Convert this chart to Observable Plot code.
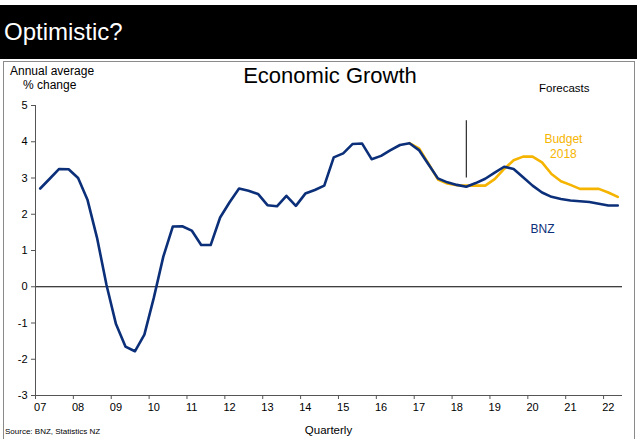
<!DOCTYPE html>
<html><head><meta charset="utf-8">
<script src="https://cdn.jsdelivr.net/npm/d3@7"></script>
<script src="https://cdn.jsdelivr.net/npm/@observablehq/plot@0.6"></script>
<style>
body{margin:0;background:#fff;font-family:"Liberation Sans",Arial,sans-serif;}
#wrap{position:relative;width:637px;height:439px;overflow:hidden;}
#header{position:absolute;left:0;top:5px;width:637px;height:54px;background:#000;color:#fff;font-size:24px;line-height:54px;padding-left:4px;box-sizing:border-box;}
#box{position:absolute;left:3px;top:61px;width:630px;height:400px;border:1px solid #8a8a8a;}
#chart{position:absolute;left:0;top:62px;}
.t{position:absolute;white-space:nowrap;color:#000;}
</style></head>
<body><div id="wrap">
<div id="header">Optimistic?</div>
<div id="box"></div>
<div id="chart"></div>
<div class="t" style="left:10px;top:64px;font-size:12px;">Annual average</div>
<div class="t" style="left:23px;top:78px;font-size:12px;">% change</div>
<div class="t" style="left:0;width:660px;text-align:center;top:63px;font-size:22px;">Economic Growth</div>
<div class="t" style="left:539px;top:82px;font-size:11.5px;">Forecasts</div>
<div class="t" style="left:0;width:657px;text-align:center;top:424px;font-size:11.5px;">Quarterly</div>
<div class="t" style="left:5px;top:427px;font-size:8px;">Source: BNZ, Statistics NZ</div>
</div>
<script>
// Quarterly series, first quarter 2007Q1
const startYear = 2007;
const bnz = [2.71, 2.98, 3.25, 3.24, 3.00, 2.39, 1.35, 0.05, -1.03, -1.65, -1.78, -1.32, -0.30, 0.83, 1.66, 1.67,
  1.55, 1.15, 1.15, 1.91, 2.33, 2.71, 2.65, 2.56, 2.25, 2.22, 2.51, 2.23, 2.57, 2.67, 2.79, 3.57,
  3.68, 3.94, 3.95, 3.52, 3.61, 3.77, 3.91, 3.96, 3.77, 3.38, 2.99, 2.88, 2.81, 2.76, 2.86, 2.98,
  3.15, 3.31, 3.25, 3.02, 2.79, 2.60, 2.48, 2.42, 2.38, 2.36, 2.34, 2.29, 2.24, 2.24];
const budgetStartIndex = 39;
const budget2018 = [3.96, 3.82, 3.40, 2.96, 2.85, 2.80, 2.79, 2.79, 2.79, 2.97, 3.25, 3.49, 3.59, 3.59, 3.43, 3.11,
  2.91, 2.81, 2.70, 2.70, 2.70, 2.60, 2.48];
const tickYears = [2007,2008,2009,2010,2011,2012,2013,2014,2015,2016,2017,2018,2019,2020,2021,2022];
const tickLabels = ["07","08","09","10","11","12","13","14","15","16","17","18","19","20","21","22"];
const yTicks = [-3,-2,-1,0,1,2,3,4,5];
const forecastStart = 2018.375;
const forecastLine = {y1: 3.0, y2: 4.58};

const qx = i => startYear + (i + 0.5) / 4;
const bnzData = bnz.map((v, i) => ({x: qx(i), y: v}));
const budData = budget2018.map((v, i) => ({x: qx(i + budgetStartIndex), y: v}));

const navy = "#0b2f78", gold = "#f5b400";
const chart = Plot.plot({
  width: 637, height: 377,
  marginLeft: 35, marginRight: 15, marginTop: 43, marginBottom: 44,
  x: {domain: [startYear, startYear + bnz.length / 4]},
  y: {domain: [-3, 5]},
  style: {fontFamily: "Liberation Sans, Arial, sans-serif", fontSize: "11px", background: "transparent", color: "#000"},
  marks: [
    Plot.ruleY([0], {stroke: "#000", strokeWidth: 1}),
    Plot.ruleX([startYear], {stroke: "#555", strokeWidth: 1}),
    Plot.ruleY([-3], {stroke: "#555", strokeWidth: 1}),
    Plot.axisY({ticks: yTicks, tickSize: 4, tickPadding: 4, tickFormat: d => String(d), label: null, stroke: "#555", fontSize: 11}),
    Plot.axisX({ticks: tickYears, tickSize: 4, tickFormat: () => "", label: null, stroke: "#555"}),
    Plot.axisX({ticks: tickYears, tickSize: 0, tickPadding: 8, dx: 4.7, tickFormat: (d, i) => tickLabels[i], label: null, fontSize: 11}),
    Plot.line(budData, {x: "x", y: "y", stroke: gold, strokeWidth: 2.6}),
    Plot.line(bnzData, {x: "x", y: "y", stroke: navy, strokeWidth: 2.6}),
    Plot.ruleX([forecastStart], {y1: forecastLine.y1, y2: forecastLine.y2, stroke: "#000", strokeWidth: 1}),
    Plot.text(["Budget\n2018"], {x: 2020.94, y: 3.9, fill: gold, fontSize: 12, lineHeight: 1.25}),
    Plot.text(["BNZ"], {x: 2020.39, y: 1.6, fill: navy, fontSize: 12})
  ]
});
document.getElementById("chart").appendChild(chart);
</script>
</body></html>
